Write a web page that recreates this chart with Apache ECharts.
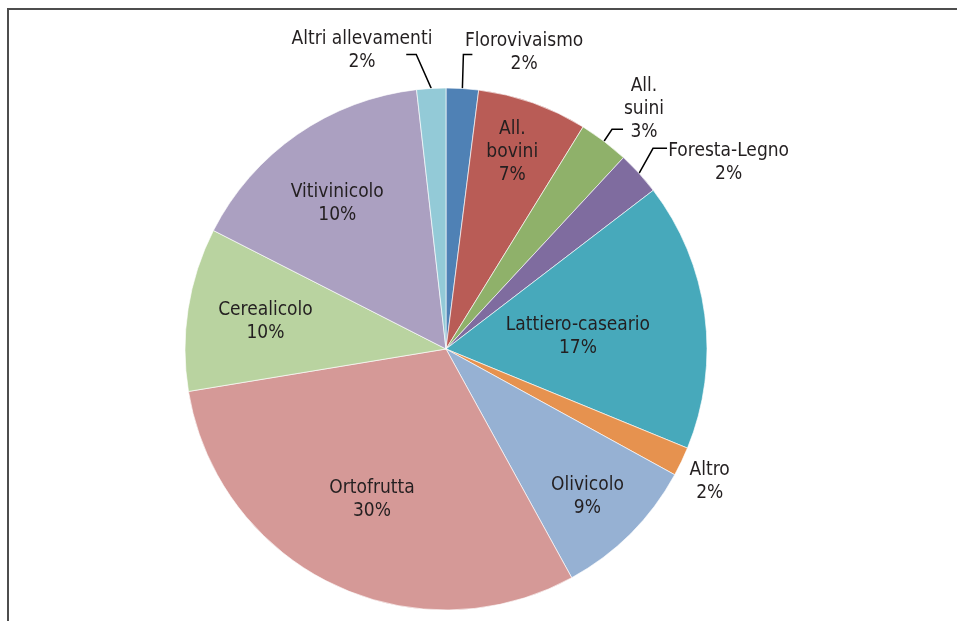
<!DOCTYPE html>
<html>
<head>
<meta charset="utf-8">
<script src="https://cdn.jsdelivr.net/npm/echarts@6/dist/echarts.min.js"></script>
<style>
  html, body { margin: 0; padding: 0; background: #fff; }
  #chart { position: absolute; left: 0; top: 0; width: 957px; height: 621px; }
  #frame { position: absolute; left: 7px; top: 8px; right: 0; bottom: 0;
           border-top: 2px solid #4d4d4d; border-left: 2px solid #4d4d4d; pointer-events: none; }
</style>
</head>
<body>
<div id="chart"></div>
<div id="frame"></div>
<script>
// categorie in senso orario a partire dalle ore 12
const categorie = ['Florovivaismo', 'All. bovini', 'All. suini', 'Foresta-Legno', 'Lattiero-caseario',
  'Altro', 'Olivicolo', 'Ortofrutta', 'Cerealicolo', 'Vitivinicolo', 'Altri allevamenti'];
// ampiezza delle fette
const valori = [2.0, 6.8, 3.1, 2.7, 16.6, 1.8, 9.0, 30.4, 10.1, 15.7, 1.8];
// percentuali stampate nelle etichette
const etichette = ['2%', '7%', '3%', '2%', '17%', '2%', '9%', '30%', '10%', '10%', '2%'];
const colori = ['#4f81b5', '#b95c56', '#8fb16a', '#7f6c9f', '#47a9bb', '#e6924f',
  '#96b1d3', '#d59997', '#b9d3a0', '#aba0c1', '#93cad7'];

const CX = 446, CY = 349, R = 261;

// posizione etichetta: [angolo in gradi (null = centro fetta), frazione del raggio]
const posEtichette = [[14.7, 1.18], [18.5, 0.80], [39.4, 1.195], [56.4, 1.30], [84.4, 0.508],
  [116.6, 1.13], [136, 0.78], [206.3, 0.64], [278.8, 0.70], [323.5, 0.70], [-15.7, 1.19]];
// linee guida: [dx gomito, dy gomito, tratto orizzontale]
const guide = { 0: [1, -34, 9], 2: [8, -12, 11], 3: [14, -25, 14], 10: [-15, -34, -10] };

const totale = valori.reduce((a, b) => a + b, 0);
const angoliMedi = [];
let cum = 0;
valori.forEach(v => {
  angoliMedi.push((cum + v / 2) / totale * 360);
  cum += v;
});

const polare = (deg, frac) => {
  const a = deg * Math.PI / 180;
  return [CX + frac * R * Math.sin(a), CY - frac * R * Math.cos(a)];
};

const chart = echarts.init(document.getElementById('chart'));

chart.setOption({
  animation: false,
  color: colori,
  textStyle: { fontFamily: '"Liberation Sans Narrow", "DejaVu Sans Condensed", sans-serif' },
  series: [{
    type: 'pie',
    center: [CX, CY],
    radius: R,
    startAngle: 90,
    clockwise: true,
    avoidLabelOverlap: false,
    itemStyle: { borderColor: 'rgba(255,255,255,0.8)', borderWidth: 0.8 },
    label: {
      color: '#231f20',
      fontSize: 19,
      lineHeight: 23,
      align: 'center',
      formatter: p => p.name.replace('All. ', 'All.\n') + '\n' + etichette[p.dataIndex]
    },
    labelLine: { lineStyle: { color: '#000', width: 1.5 } },
    labelLayout: p => {
      const i = p.dataIndex;
      const pos = posEtichette[i];
      const ang = pos[0] === null ? angoliMedi[i] : pos[0];
      const [x, y] = polare(ang, pos[1]);
      const out = { x: x, y: y + 1, align: 'center', verticalAlign: 'middle' };
      if (guide[i]) {
        const s = polare(angoliMedi[i], 1);
        const g = guide[i];
        const e = [s[0] + g[0], s[1] + g[1]];
        out.labelLinePoints = [s, e, [e[0] + g[2], e[1]]];
      }
      return out;
    },
    data: categorie.map((nome, i) => ({
      name: nome,
      value: valori[i],
      label: { position: guide[i] || i === 5 ? 'outside' : 'inside' },
      labelLine: { show: !!guide[i] }
    }))
  }]
});
</script>
</body>
</html>
